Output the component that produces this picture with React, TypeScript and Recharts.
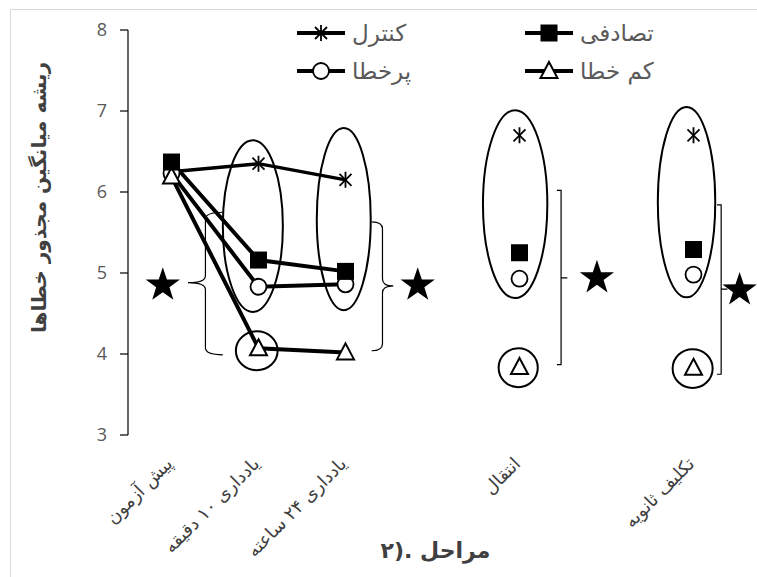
import React from "react";
import {
  ComposedChart,
  Line,
  XAxis,
  YAxis,
  ReferenceDot,
  ReferenceArea,
  Legend,
  Label,
} from "recharts";

// stages (empty slots are the gaps Excel left between groups)
const stages = [
  "پیش آزمون",
  "یادداری ۱۰ دقیقه",
  "یادداری ۲۴ ساعته",
  "",
  "انتقال",
  "",
  "تکلیف ثانویه",
];

const seriesNames = ["کنترل", "تصادفی", "پرخطا", "کم خطا"];

const control = [6.25, 6.35, 6.15, null, 6.7, null, 6.7];
const random = [6.37, 5.16, 5.02, null, 5.25, null, 5.29];
const highError = [6.23, 4.83, 4.86, null, 4.93, null, 4.98];
const lowError = [6.19, 4.07, 4.02, null, 3.84, null, 3.83];

const yTicks = [3, 4, 5, 6, 7, 8];
const edgeTicks = [0, 1, 2, 3, 4, 5, 6, 7];

const yTitle = "ریشه میانگین مجذور خطاها";
const xTitle = "مراحل .(۲";

// annotations, in data units: [x1, x2, yLow, yHigh]
const ovals = [
  [1.09, 1.78, 4.52, 6.64],
  [2.17, 2.79, 4.54, 6.79],
  [4.08, 4.82, 4.69, 7.01],
  [6.09, 6.75, 4.7, 7.05],
];
const rings = [
  [1.24, 1.72, 3.8, 4.28],
  [4.26, 4.71, 3.59, 4.07],
  [6.26, 6.72, 3.58, 4.06],
];
// braces: [x1, x2, yLow, yHigh, yMid]
const braces = [
  { kind: "open", box: [0.69, 1.09, 3.99, 5.75, 4.88] },
  { kind: "close", box: [2.8, 3.05, 4.04, 5.63, 4.84] },
  { kind: "bracket", box: [4.93, 5.05, 3.87, 6.02, 4.94] },
  { kind: "bracket", box: [6.77, 6.89, 3.75, 5.84, 4.8] },
];
const stars = [
  [0.4, 4.85],
  [3.33, 4.85],
  [5.39, 4.94],
  [7.03, 4.79],
];

const FA = "'DejaVu Sans', sans-serif";

function Marker({ kind, cx, cy }: { kind: string; cx: number; cy: number }) {
  if (kind === "asterisk")
    return (
      <g stroke="#000" strokeWidth={1.8}>
        <line x1={cx - 6} y1={cy - 6} x2={cx + 6} y2={cy + 6} />
        <line x1={cx - 6} y1={cy + 6} x2={cx + 6} y2={cy - 6} />
        <line x1={cx} y1={cy - 8} x2={cx} y2={cy + 8} />
      </g>
    );
  if (kind === "square")
    return <rect x={cx - 8.5} y={cy - 8.5} width={17} height={17} fill="#000" />;
  if (kind === "circle")
    return <circle cx={cx} cy={cy} r={8} fill="#fff" stroke="#000" strokeWidth={1.8} />;
  return (
    <path
      d={`M${cx},${cy - 9} L${cx + 8.5},${cy + 7} L${cx - 8.5},${cy + 7} Z`}
      fill="#fff"
      stroke="#000"
      strokeWidth={2}
    />
  );
}

const markerKinds = ["asterisk", "square", "circle", "triangle"];

const dotFor = (kind: string) => (props: any) => {
  const { cx, cy, index } = props;
  if (!Number.isFinite(cx) || !Number.isFinite(cy)) return <g key={index} />;
  return (
    <g key={index}>
      <Marker kind={kind} cx={cx} cy={cy} />
    </g>
  );
};

function StageTick(props: any) {
  const { x, y, payload } = props;
  const label = stages[Math.floor(payload.value)];
  const ax = x + 2;
  const ay = y + 22;
  return (
    <text
      x={ax}
      y={ay}
      transform={`rotate(-45 ${ax} ${ay})`}
      textAnchor="end"
      fontFamily={FA}
      fontSize={18}
      fill="#404040"
    >
      {label}
    </text>
  );
}

function Star(props: any) {
  const { cx, cy } = props;
  const pts: string[] = [];
  for (let i = 0; i < 10; i++) {
    const r = i % 2 === 0 ? 18 : 7;
    const a = -Math.PI / 2 + (i * Math.PI) / 5;
    pts.push(`${cx + r * Math.cos(a)},${cy + r * Math.sin(a)}`);
  }
  return <polygon points={pts.join(" ")} fill="#000" />;
}

const ovalShape = (props: any) => {
  const { x, y, width, height } = props;
  return (
    <ellipse
      cx={x + width / 2}
      cy={y + height / 2}
      rx={width / 2}
      ry={height / 2}
      fill="none"
      stroke="#000"
      strokeWidth={2}
    />
  );
};

const braceShape = (kind: string, midFrac: number) => (props: any) => {
  const { x, y, width: w, height: h } = props;
  const ym = y + h * midFrac;
  const r = 7;
  let d = "";
  if (kind === "open") {
    const xv = x + w * 0.5;
    d = `M${x + w},${y} Q${xv},${y} ${xv},${y + r} L${xv},${ym - r} Q${xv},${ym} ${x},${ym} Q${xv},${ym} ${xv},${ym + r} L${xv},${y + h - r} Q${xv},${y + h} ${x + w},${y + h}`;
  } else if (kind === "close") {
    const xv = x + w * 0.5;
    d = `M${x},${y} Q${xv},${y} ${xv},${y + r} L${xv},${ym - r} Q${xv},${ym} ${x + w},${ym} Q${xv},${ym} ${xv},${ym + r} L${xv},${y + h - r} Q${xv},${y + h} ${x},${y + h}`;
  } else {
    const xv = x + w * 0.4;
    d = `M${x},${y} L${xv},${y} L${xv},${y + h} L${x},${y + h} M${xv},${ym} L${x + w},${ym}`;
  }
  return <path d={d} fill="none" stroke="#000" strokeWidth={1.2} />;
};

function LegendBox() {
  const order = [0, 1, 2, 3];
  return (
    <div
      style={{
        display: "grid",
        gridTemplateColumns: "228px 228px",
        fontFamily: FA,
        fontSize: 23,
        color: "#595959",
      }}
    >
      {order.map((i) => (
        <div
          key={i}
          style={{ display: "flex", alignItems: "center", height: 38 }}
        >
          <svg width={48} height={20} style={{ overflow: "visible" }}>
            <line x1={0} y1={10} x2={48} y2={10} stroke="#000" strokeWidth={4} />
            <Marker kind={markerKinds[i]} cx={24} cy={10} />
          </svg>
          <span style={{ marginLeft: 7, lineHeight: "38px" }}>{seriesNames[i]}</span>
        </div>
      ))}
    </div>
  );
}

export default function App() {
  const rows = stages.map((stage, i) => ({
    x: i + 0.5,
    stage,
    control: control[i],
    random: random[i],
    highError: highError[i],
    lowError: lowError[i],
  }));
  const labelTicks = stages
    .map((s, i) => (s ? i + 0.5 : null))
    .filter((v) => v !== null) as number[];

  return (
    <div style={{ position: "relative", width: 757, height: 577, overflow: "hidden", background: "#fff" }}>
      <style>{`body{margin:0;overflow:hidden}`}</style>
      <div
        style={{
          position: "absolute",
          left: 10,
          top: 9,
          width: 800,
          height: 600,
          border: "1px solid #d9d9d9",
        }}
      >
        <ComposedChart
          width={746}
          height={567}
          data={rows}
          margin={{ top: 20, right: 20, left: 0, bottom: 0 }}
        >
          <XAxis
            xAxisId="edges"
            type="number"
            dataKey="x"
            domain={[0, 7]}
            ticks={edgeTicks}
            allowDataOverflow
            height={0}
            tick={false}
            tickSize={7}
            axisLine={{ stroke: "#000", strokeWidth: 1.2 }}
            tickLine={{ stroke: "#000", strokeWidth: 1.2 }}
          />
          <XAxis
            xAxisId="main"
            type="number"
            dataKey="x"
            domain={[0, 7]}
            ticks={labelTicks}
            allowDataOverflow
            height={142}
            axisLine={false}
            tickLine={false}
            tick={<StageTick />}
            interval={0}
          >
            <Label
              content={(p: any) => {
                const vb = p.viewBox;
                return (
                  <text
                    x={vb.x + vb.width / 2 + 3}
                    y={vb.y + 115}
                    textAnchor="middle"
                    dominantBaseline="central"
                    fontFamily={FA}
                    fontWeight="bold"
                    fontSize={22}
                    fill="#404040"
                  >
                    {xTitle}
                  </text>
                );
              }}
            />
          </XAxis>
          <YAxis
            type="number"
            domain={[3, 8]}
            ticks={yTicks}
            width={117}
            tickSize={8}
            tickMargin={13}
            axisLine={{ stroke: "#000", strokeWidth: 1.2 }}
            tickLine={{ stroke: "#000", strokeWidth: 1.2 }}
            tick={{ fill: "#595959", fontSize: 18, fontFamily: "'Open Sans', sans-serif" }}
          >
            <Label
              content={(p: any) => {
                const vb = p.viewBox;
                const cx = vb.x + 28;
                const cy = vb.y + vb.height / 2 - 35;
                return (
                  <text
                    x={cx}
                    y={cy}
                    transform={`rotate(-90 ${cx} ${cy})`}
                    textAnchor="middle"
                    dominantBaseline="central"
                    fontFamily={FA}
                    fontWeight="bold"
                    fontSize={20}
                    fill="#404040"
                  >
                    {yTitle}
                  </text>
                );
              }}
            />
          </YAxis>

          {ovals.map((o, i) => (
            <ReferenceArea
              key={"o" + i}
              xAxisId="main"
              x1={o[0]}
              x2={o[1]}
              y1={o[2]}
              y2={o[3]}
              shape={ovalShape}
            />
          ))}
          {rings.map((o, i) => (
            <ReferenceArea
              key={"r" + i}
              xAxisId="main"
              x1={o[0]}
              x2={o[1]}
              y1={o[2]}
              y2={o[3]}
              shape={ovalShape}
            />
          ))}
          {braces.map((b, i) => (
            <ReferenceArea
              key={"b" + i}
              xAxisId="main"
              x1={b.box[0]}
              x2={b.box[1]}
              y1={b.box[2]}
              y2={b.box[3]}
              shape={braceShape(b.kind, (b.box[3] - b.box[4]) / (b.box[3] - b.box[2]))}
            />
          ))}
          {stars.map((s, i) => (
            <ReferenceDot
              key={"s" + i}
              xAxisId="main"
              x={s[0]}
              y={s[1]}
              ifOverflow="visible"
              shape={Star}
            />
          ))}

          <Line
            xAxisId="main"
            dataKey="control"
            name={seriesNames[0]}
            stroke="#000"
            strokeWidth={3.5}
            dot={dotFor("asterisk")}
            activeDot={false}
            isAnimationActive={false}
          />
          <Line
            xAxisId="main"
            dataKey="highError"
            name={seriesNames[2]}
            stroke="#000"
            strokeWidth={4}
            dot={dotFor("circle")}
            activeDot={false}
            isAnimationActive={false}
          />
          <Line
            xAxisId="main"
            dataKey="lowError"
            name={seriesNames[3]}
            stroke="#000"
            strokeWidth={4}
            dot={dotFor("triangle")}
            activeDot={false}
            isAnimationActive={false}
          />
          <Line
            xAxisId="main"
            dataKey="random"
            name={seriesNames[1]}
            stroke="#000"
            strokeWidth={4}
            dot={dotFor("square")}
            activeDot={false}
            isAnimationActive={false}
          />
          <Legend
            layout="horizontal"
            verticalAlign="middle"
            content={() => <LegendBox />}
            wrapperStyle={{ left: 286, top: 4, width: 460, height: 76 }}
          />
        </ComposedChart>
      </div>
    </div>
  );
}
